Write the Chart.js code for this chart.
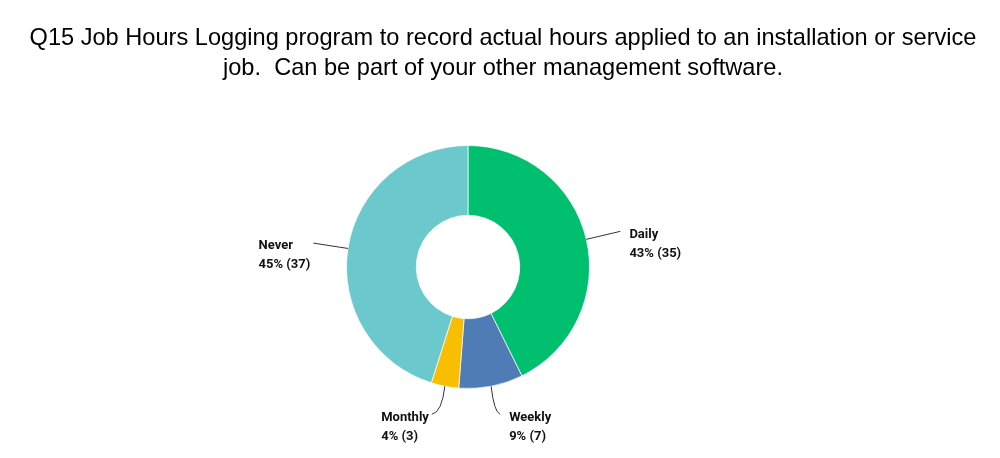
<!DOCTYPE html>
<html>
<head>
<meta charset="utf-8">
<script src="https://cdn.jsdelivr.net/npm/chart.js@4"></script>
<style>
  html, body { margin: 0; padding: 0; background: #fff; }
  #wrap { width: 1000px; height: 458px; }
</style>
</head>
<body>
<div id="wrap"><canvas id="chart"></canvas></div>
<script>
// Q15 answers
const categories = ['Daily', 'Weekly', 'Monthly', 'Never'];
const counts = [35, 7, 3, 37];
const percentLabels = ['43%', '9%', '4%', '45%'];
const sliceColors = ['#00BF6F', '#507CB6', '#F9BE00', '#6BC8CD'];

const titleLines = [
    'Q15 Job Hours Logging program to record actual hours applied to an installation or service',
    'job.  Can be part of your other management software.'
];

// título centrado na página inteira (não na área do gráfico)
const pageTitle = {
    id: 'pageTitle',
    afterDraw(chart) {
        const ctx = chart.ctx;
        ctx.save();
        ctx.font = '23.6px "Liberation Sans", Arial, sans-serif';
        ctx.fillStyle = '#000';
        ctx.textAlign = 'center';
        ctx.textBaseline = 'middle';
        titleLines.forEach((t, i) => ctx.fillText(t, 503, 38 + i * 30));
        ctx.restore();
    }
};

// etiquetas com linhas de chamada
const leaderLabels = {
    id: 'leaderLabels',
    afterDatasetsDraw(chart) {
        const ctx = chart.ctx;
        const meta = chart.getDatasetMeta(0);
        ctx.save();
        ctx.font = 'bold 13px Roboto, "Liberation Sans", sans-serif';
        ctx.textBaseline = 'middle';
        meta.data.forEach((arc, i) => {
            const mid = (arc.startAngle + arc.endAngle) / 2;
            const cx = arc.x, cy = arc.y, r = arc.outerRadius;
            const dx = Math.cos(mid), dy = Math.sin(mid);
            const sx = cx + dx * r, sy = cy + dy * r;
            const right = dx > 0;
            let ex, ey;
            ctx.strokeStyle = '#333';
            ctx.lineWidth = 1;
            ctx.beginPath();
            ctx.moveTo(sx, sy);
            if (Math.abs(dx) > 0.5) {
                // lados: linha reta radial
                ex = cx + dx * (r + 35);
                ey = cy + dy * (r + 35);
                ctx.lineTo(ex, ey);
            } else {
                // embaixo: linha curva
                ey = sy + 28;
                ex = sx + (right ? 9 : -13);
                ctx.quadraticCurveTo(sx + (right ? 3 : -3), ey - 2, ex, ey);
            }
            ctx.stroke();

            const line1 = categories[i];
            const line2 = percentLabels[i] + ' (' + counts[i] + ')';
            const w = Math.max(ctx.measureText(line1).width, ctx.measureText(line2).width);
            const tx = right ? ex + 9 : ex - 3 - w;
            ctx.fillStyle = '#111';
            ctx.textAlign = 'left';
            ctx.fillText(line1, tx, ey + 3);
            ctx.fillText(line2, tx, ey + 22);
        });
        ctx.restore();
    }
};

const ctx = document.getElementById('chart').getContext('2d');

new Chart(ctx, {
    type: 'doughnut',
    data: {
        labels: categories,
        datasets: [{
            data: counts,
            backgroundColor: sliceColors,
            borderColor: 'rgba(255,255,255,0.7)',
            borderWidth: 1,
            cutout: '42.6%'
        }]
    },
    options: {
        responsive: true,
        maintainAspectRatio: false,
        animation: false,
        layout: {
            padding: { top: 145, bottom: 69, left: 0, right: 64 }
        },
        plugins: {
            legend: { display: false },
            tooltip: { enabled: false },
            title: { display: false }
        }
    },
    plugins: [leaderLabels, pageTitle]
});
</script>
</body>
</html>
